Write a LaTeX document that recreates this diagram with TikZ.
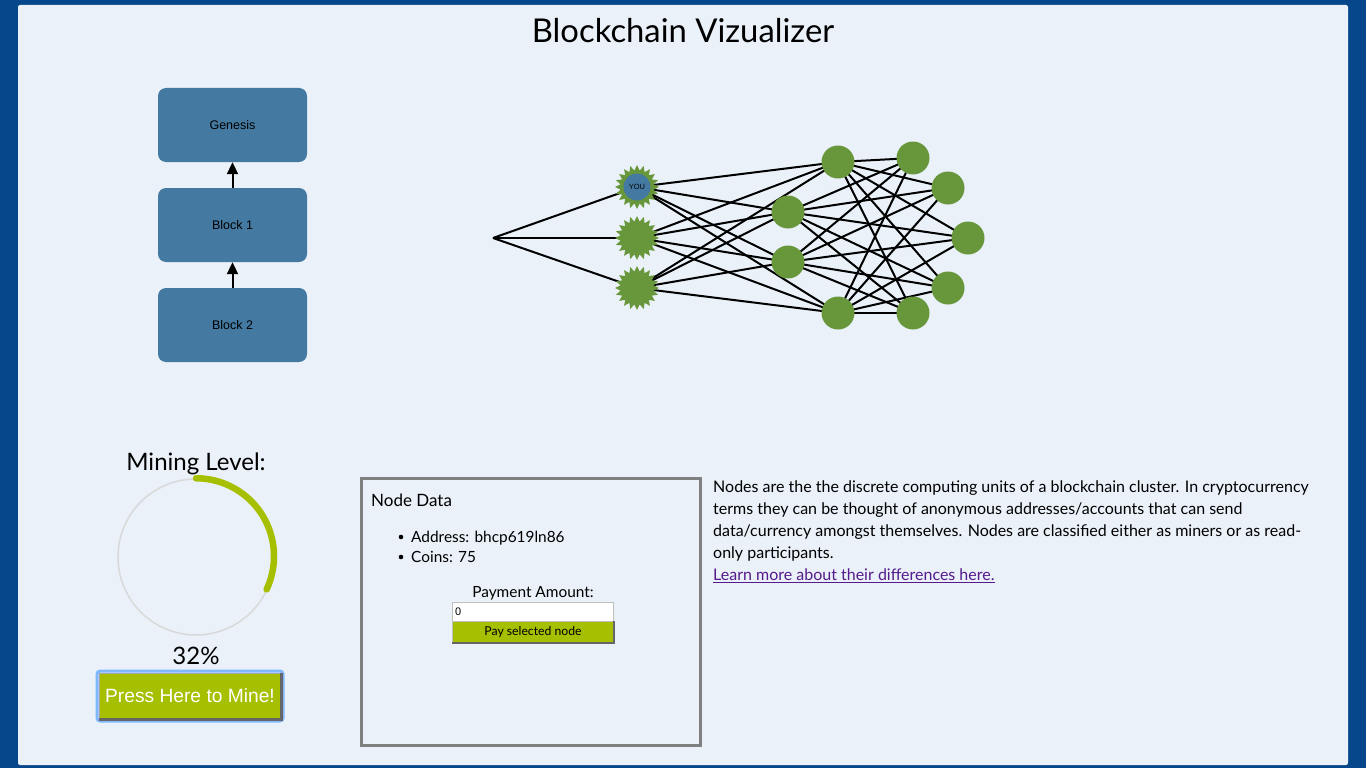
\documentclass[tikz,border=0pt]{standalone}
\usepackage{fontspec}
\setmainfont{Lato}
\newfontfamily\arialf{Liberation Sans}
\usetikzlibrary{shapes.geometric,arrows.meta}
\pgfdeclarelayer{back}
\pgfdeclarelayer{edges}
\pgfsetlayers{back,edges,main}
\definecolor{outerc}{HTML}{05478A}
\definecolor{panelc}{HTML}{EAF1F9}
\definecolor{blockc}{HTML}{447AA1}
\definecolor{nodeg}{HTML}{68963A}
\definecolor{limec}{HTML}{A6BF00}
\definecolor{linkc}{HTML}{551A8B}
\definecolor{ringc}{HTML}{D9D9D9}
\definecolor{focusc}{HTML}{80B8FF}
\definecolor{boxgray}{HTML}{808080}
\tikzset{
  block/.style={rectangle, rounded corners=8pt, fill=blockc, minimum width=149pt, minimum height=74pt, inner sep=0pt, font=\arialf\fontsize{12.5}{14}\selectfont},
  peer/.style={circle, fill=nodeg, minimum size=33pt, inner sep=0pt},
  miner/.style={star, star points=20, star point ratio=1.32, fill=nodeg, minimum size=44pt, inner sep=0pt},
  link/.style={line width=2pt, black},
  txt/.style={inner sep=0pt, anchor=base},
  txtl/.style={inner sep=0pt, anchor=base west},
  chainarrow/.style={-{Triangle[width=11pt,length=12pt]}, line width=2pt, black}
}
\begin{document}
\begin{tikzpicture}[x=1pt,y=-1pt]
\begin{pgfonlayer}{back}
\fill[outerc] (0,0) rectangle (1366,768);
\fill[panelc, rounded corners=2pt] (18,5) rectangle (1348,765);
\end{pgfonlayer}
\useasboundingbox (0,0) rectangle (1366,768);

% title
\node[txt, font=\fontsize{32.8}{36}\selectfont] (title) at (683,43) {Blockchain Vizualizer};

% chain
\node[block] (gen) at (232.5,125) {Genesis};
\node[block] (b1) at (232.5,225) {Block 1};
\node[block] (b2) at (232.5,325) {Block 2};
\draw[chainarrow] (b1.north) -- (gen.south);
\draw[chainarrow] (b2.north) -- (b1.south);

% network
\coordinate (root) at (493,238);
\node[miner] (s1) at (637,187) {};
\node[circle, fill=blockc, minimum size=27pt, inner sep=0pt, font=\arialf\fontsize{7.5}{8}\selectfont] (you) at (637,187) {YOU};
\node[miner] (s2) at (637,238) {};
\node[miner] (s3) at (637,288) {};
\node[peer] (a) at (838,162) {};
\node[peer] (h) at (788,212) {};
\node[peer] (i) at (788,262) {};
\node[peer] (g) at (838,313) {};
\node[peer] (pb) at (913,158) {};
\node[peer] (pc) at (948,188) {};
\node[peer] (pd) at (968,238) {};
\node[peer] (pe) at (948,288) {};
\node[peer] (pf) at (913,313) {};
\begin{pgfonlayer}{edges}
\foreach \s in {s1,s2,s3} {\draw[link] (root) -- (\s.center);}
\foreach \s in {s1,s2,s3} {\foreach \t in {a,h,i,g} {\draw[link] (\s.center) -- (\t.center);}}
\foreach \s in {a,h,i,g} {\foreach \t in {pb,pc,pd,pe,pf} {\draw[link] (\s.center) -- (\t.center);}}
\end{pgfonlayer}

% mining level
\node[txt, font=\fontsize{24}{28}\selectfont] (mlabel) at (196,470) {Mining Level:};
\node[circle, draw=ringc, line width=1.5pt, minimum size=156pt, inner sep=0pt] (ring) at (196,557) {};
\draw[limec, line width=6.5pt, line cap=round] (ring.north) arc[start angle=90, end angle=-25.2, radius=78pt];
\node[txt, font=\fontsize{24}{28}\selectfont] (pct) at (196,664) {32\%};
\node[draw=focusc, line width=3pt, rounded corners=3pt, minimum width=186pt, minimum height=50pt, inner sep=0pt] (focus) at (190,696) {};
\node[fill=limec, draw=boxgray!70, line width=1.5pt, minimum width=181pt, minimum height=45pt, inner sep=0pt, font=\arialf\fontsize{19.2}{22}\selectfont, text=white] (mine) at (190,696) {Press Here to Mine!};
\draw[black!60, line width=2.5pt] (mine.south west) -- (mine.south east) -- (mine.north east);

% node data box
\node[draw=boxgray, line width=3pt, minimum width=339pt, minimum height=267pt, inner sep=0pt, anchor=north west] (ndbox) at (360,477) {};
\node[txtl, font=\fontsize{17}{20}\selectfont] (ndtitle) at (371,506) {Node Data};
\fill (401,537) circle (2.3pt);
\fill (401,557) circle (2.3pt);
\node[txtl, font=\fontsize{15.4}{18}\selectfont] (addr) at (411,542) {Address: bhcp619ln86};
\node[txtl, font=\fontsize{15.4}{18}\selectfont] (coins) at (411,562) {Coins: 75};
\node[txt, font=\fontsize{15.4}{18}\selectfont] (paylabel) at (533,597) {Payment Amount:};
\node[fill=white, draw=black!25, line width=1pt, minimum width=161pt, minimum height=19pt, inner sep=0pt, anchor=north west] (amount) at (452,602) {};
\node[txtl, font=\arialf\fontsize{11}{12}\selectfont] (zero) at (455,615) {0};
\node[fill=limec, draw=black!25, line width=1pt, minimum width=161pt, minimum height=21pt, inner sep=0pt, anchor=north west, font=\fontsize{12.2}{13}\selectfont] (pay) at (452,621) {Pay selected node};
\draw[black!60, line width=2pt] (pay.south west) -- (pay.south east) -- (pay.north east);

% description
\begin{scope}[font=\fontsize{16}{22}\selectfont]
\node[txtl] (p1) at (713,492) {Nodes are the the discrete computing units of a blockchain cluster. In cryptocurrency};
\node[txtl] (p2) at (713,514) {terms they can be thought of anonymous addresses/accounts that can send};
\node[txtl] (p3) at (713,536) {data/currency amongst themselves. Nodes are classified either as miners or as read-};
\node[txtl] (p4) at (713,558) {only participants.};
\node[txtl, text=linkc] (p5) at (713,580) {Learn more about their differences here.};
\draw[linkc, line width=1pt] ([yshift=-2.5pt]p5.base west) -- ([yshift=-2.5pt]p5.base east);
\end{scope}
\end{tikzpicture}
\end{document}
